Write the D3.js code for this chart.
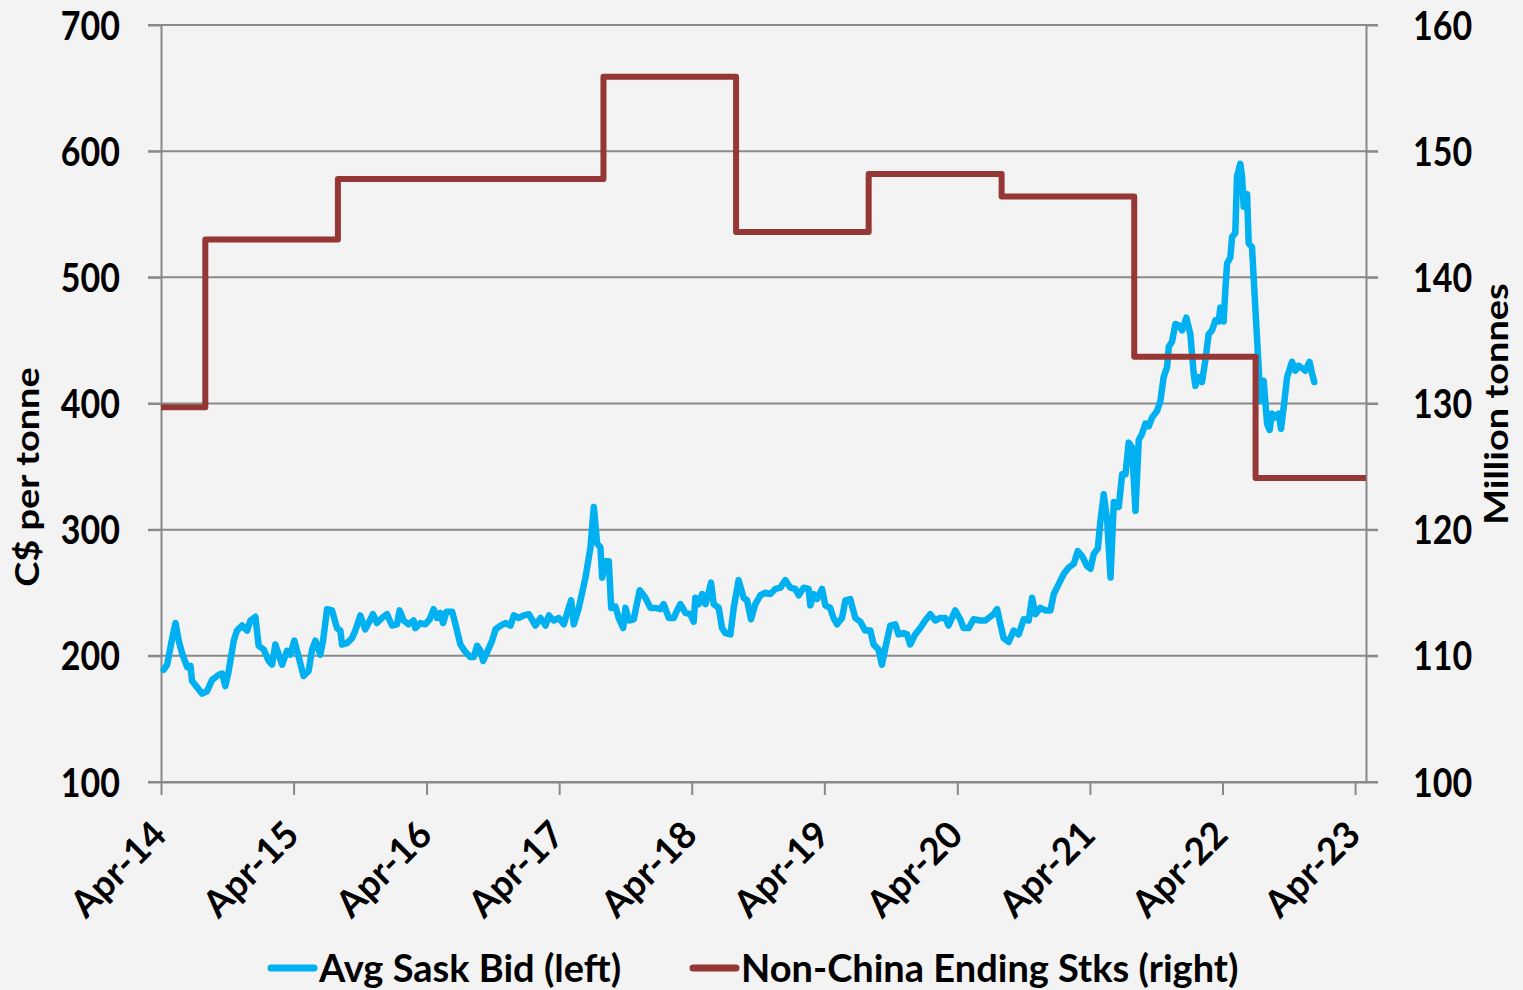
<!DOCTYPE html>
<html>
<head>
<meta charset="utf-8">
<script src="https://cdn.jsdelivr.net/npm/d3@7"></script>
<style>
  html, body { margin: 0; padding: 0; background: #f3f3f3; }
  svg { display: block; }
  text { font-family: Lato, "Open Sans", sans-serif; font-weight: 700; fill: #000; }
</style>
</head>
<body>
<svg id="chart" width="1523" height="990"></svg>
<script>
// Average Saskatchewan bid, C$/tonne: [decimal year, price]
const avgSaskBid = [
  [2014.267,189],[2014.293,193],[2014.331,214],[2014.356,226],[2014.380,212],[2014.406,202],[2014.444,191],[2014.469,192],[2014.481,180],[2014.519,175],
  [2014.557,170],[2014.594,172],[2014.632,181],[2014.682,185],[2014.707,186],[2014.732,176],[2014.757,188],[2014.795,212],[2014.820,220],[2014.858,224],
  [2014.896,220],[2014.921,228],[2014.958,231],[2014.983,208],[2015.021,205],[2015.059,196],[2015.084,193],[2015.109,209],[2015.134,201],[2015.160,193],
  [2015.197,204],[2015.222,201],[2015.252,212],[2015.285,199],[2015.322,184],[2015.360,188],[2015.386,205],[2015.411,212],[2015.448,201],[2015.469,212],
  [2015.499,237],[2015.536,236],[2015.574,222],[2015.599,220],[2015.612,209],[2015.649,210],[2015.687,214],[2015.712,220],[2015.750,232],[2015.787,221],
  [2015.812,226],[2015.845,233],[2015.875,226],[2015.913,230],[2015.951,233],[2015.989,224],[2016.026,225],[2016.046,236],[2016.076,228],[2016.114,225],
  [2016.151,228],[2016.164,222],[2016.202,226],[2016.239,225],[2016.272,229],[2016.302,237],[2016.328,230],[2016.352,234],[2016.373,226],[2016.398,235],
  [2016.441,235],[2016.466,225],[2016.503,209],[2016.541,203],[2016.579,199],[2016.603,199],[2016.629,208],[2016.654,204],[2016.674,196],[2016.704,203],
  [2016.742,212],[2016.767,221],[2016.805,224],[2016.842,226],[2016.880,224],[2016.905,232],[2016.943,230],[2016.980,232],[2017.018,233],[2017.068,224],
  [2017.106,230],[2017.144,224],[2017.169,232],[2017.206,228],[2017.244,230],[2017.282,225],[2017.307,234],[2017.337,244],[2017.357,225],[2017.395,238],
  [2017.445,262],[2017.483,286],[2017.508,318],[2017.533,289],[2017.558,286],[2017.571,262],[2017.596,275],[2017.621,275],[2017.639,238],[2017.671,239],
  [2017.696,230],[2017.729,222],[2017.747,238],[2017.772,228],[2017.809,229],[2017.854,252],[2017.897,246],[2017.935,238],[2017.973,238],[2018.010,237],
  [2018.035,241],[2018.073,230],[2018.111,230],[2018.136,236],[2018.161,241],[2018.199,234],[2018.236,233],[2018.261,227],[2018.274,246],[2018.299,241],
  [2018.325,249],[2018.350,241],[2018.374,250],[2018.392,258],[2018.412,241],[2018.450,238],[2018.475,222],[2018.500,218],[2018.538,217],[2018.563,238],
  [2018.600,260],[2018.638,246],[2018.664,244],[2018.694,229],[2018.726,241],[2018.764,248],[2018.802,250],[2018.839,249],[2018.877,253],[2018.915,254],
  [2018.952,260],[2018.990,254],[2019.028,253],[2019.053,248],[2019.090,254],[2019.128,253],[2019.141,240],[2019.166,249],[2019.191,245],[2019.229,253],
  [2019.254,240],[2019.291,238],[2019.316,230],[2019.342,225],[2019.380,230],[2019.405,244],[2019.442,245],[2019.480,230],[2019.518,227],[2019.555,220],
  [2019.593,220],[2019.618,209],[2019.655,205],[2019.681,193],[2019.706,206],[2019.744,224],[2019.781,225],[2019.806,217],[2019.844,218],[2019.870,217],
  [2019.894,209],[2019.932,217],[2019.970,222],[2020.007,228],[2020.045,233],[2020.083,228],[2020.120,230],[2020.158,230],[2020.183,224],[2020.233,236],
  [2020.271,229],[2020.296,222],[2020.334,222],[2020.371,229],[2020.422,228],[2020.460,228],[2020.484,230],[2020.522,233],[2020.548,237],[2020.573,225],
  [2020.597,214],[2020.635,211],[2020.673,220],[2020.710,217],[2020.748,229],[2020.786,228],[2020.811,246],[2020.836,233],[2020.874,238],[2020.912,236],
  [2020.949,236],[2020.974,249],[2021.012,257],[2021.050,265],[2021.087,270],[2021.125,273],[2021.155,283],[2021.188,279],[2021.226,271],[2021.251,269],
  [2021.276,281],[2021.306,285],[2021.326,307],[2021.351,328],[2021.377,307],[2021.402,262],[2021.427,322],[2021.464,318],[2021.490,344],[2021.515,344],
  [2021.539,369],[2021.565,365],[2021.590,315],[2021.615,371],[2021.640,376],[2021.665,384],[2021.690,382],[2021.716,389],[2021.753,394],[2021.778,402],
  [2021.803,421],[2021.829,429],[2021.841,445],[2021.866,449],[2021.891,463],[2021.916,462],[2021.942,458],[2021.974,468],[2022.004,455],[2022.029,424],
  [2022.042,414],[2022.067,421],[2022.092,417],[2022.117,434],[2022.142,455],[2022.168,458],[2022.193,466],[2022.218,465],[2022.230,476],[2022.255,465],
  [2022.268,490],[2022.281,511],[2022.306,516],[2022.319,532],[2022.343,535],[2022.356,580],[2022.381,590],[2022.394,580],[2022.406,556],[2022.432,566],
  [2022.444,527],[2022.469,524],[2022.494,476],[2022.519,429],[2022.532,402],[2022.557,418],[2022.583,384],[2022.602,379],[2022.620,392],[2022.645,389],
  [2022.670,392],[2022.688,380],[2022.708,397],[2022.734,421],[2022.771,433],[2022.796,426],[2022.820,430],[2022.846,428],[2022.871,426],[2022.903,433],
  [2022.921,424],[2022.939,417]
];

// Non-China ending stocks, million tonnes, by the date each estimate takes effect
const stockDates  = ["2014-04-01","2014-08-01","2015-08-01","2016-08-01","2017-08-01","2018-08-01","2019-08-01","2020-08-01","2021-08-01","2022-07-01","2023-05-01"];
const stockValues = [129.7, 143.0, 147.8, 147.8, 155.9, 143.6, 148.2, 146.4, 133.7, 124.1, 124.1];

const leftTicks  = [100, 200, 300, 400, 500, 600, 700];
const rightTicks = [100, 110, 120, 130, 140, 150, 160];
const dateTicks  = ["2014-04-01","2015-04-01","2016-04-01","2017-04-01","2018-04-01","2019-04-01","2020-04-01","2021-04-01","2022-04-01","2023-04-01"];

const legendItems = [
  { label: "Avg Sask Bid (left)", color: "#00b0f0" },
  { label: "Non-China Ending Stks (right)", color: "#953735" }
];

// ---- layout ----
const plot = { left: 161, right: 1366, top: 25, bottom: 782 };
const gridColor = "#898989";
const textStretch = "scale(1,1.15)";

const svg = d3.select("#chart");

function decimalYearToDate(t) {
  const y = Math.floor(t);
  const a = Date.UTC(y, 0, 1), b = Date.UTC(y + 1, 0, 1);
  return new Date(a + (t - y) * (b - a));
}
const parseDay = d3.utcParse("%Y-%m-%d");

const x  = d3.scaleUtc().domain([parseDay("2014-04-01"), parseDay("2023-05-01")]).range([plot.left, plot.right]);
const yL = d3.scaleLinear().domain([100, 700]).range([plot.bottom, plot.top]);
const yR = d3.scaleLinear().domain([100, 160]).range([plot.bottom, plot.top]);

// horizontal gridlines (run across both tick stubs)
svg.append("g").selectAll("line").data(leftTicks).join("line")
  .attr("x1", plot.left - 13).attr("x2", plot.right + 12)
  .attr("y1", d => yL(d)).attr("y2", d => yL(d))
  .attr("stroke", gridColor).attr("stroke-width", 2);

// left axis
const gL = svg.append("g").attr("transform", `translate(${plot.left},0)`)
  .call(d3.axisLeft(yL).tickValues(leftTicks).tickSize(13).tickSizeOuter(0).tickPadding(28));
// right axis
const gR = svg.append("g").attr("transform", `translate(${plot.right},0)`)
  .call(d3.axisRight(yR).tickValues(rightTicks).tickSize(12).tickSizeOuter(0).tickPadding(35));
// bottom axis
const gB = svg.append("g").attr("transform", `translate(0,${plot.bottom})`)
  .call(d3.axisBottom(x).tickValues(dateTicks.map(parseDay)).tickSize(13).tickSizeOuter(0)
    .tickFormat(d3.utcFormat("%b-%y")));

[gL, gR, gB].forEach(g => {
  g.select(".domain").attr("stroke", gridColor).attr("stroke-width", 2);
  g.selectAll(".tick line").attr("stroke", gridColor).attr("stroke-width", 2);
  g.selectAll("text").attr("font-size", 34).attr("font-family", "Lato").attr("font-weight", 700).attr("fill", "#000");
});
gL.selectAll(".tick text").attr("dy", "0.36em").attr("transform", textStretch);
gR.selectAll(".tick text").attr("dy", "0.36em").attr("transform", textStretch);
gB.selectAll(".tick text")
  .attr("x", 0).attr("y", 0).attr("dy", 0)
  .attr("font-size", 37)
  .attr("text-anchor", "end")
  .attr("transform", "translate(7,55) rotate(-45)");

// axis titles
svg.append("text")
  .attr("transform", "translate(39,477) rotate(-90) scale(1.15,1)")
  .attr("text-anchor", "middle").attr("font-size", 33)
  .text("C$ per tonne");
svg.append("text")
  .attr("transform", "translate(1508,404) rotate(-90) scale(1.15,1)")
  .attr("text-anchor", "middle").attr("font-size", 33)
  .text("Million tonnes");

// series
const bidLine = d3.line()
  .x(d => x(decimalYearToDate(d[0])))
  .y(d => yL(d[1]));
svg.append("path").datum(avgSaskBid)
  .attr("d", bidLine)
  .attr("fill", "none").attr("stroke", "#00b0f0").attr("stroke-width", 6.5)
  .attr("stroke-linejoin", "round").attr("stroke-linecap", "round");

const stockData = stockDates.map((d, i) => [parseDay(d), stockValues[i]]);
const stockLine = d3.line().curve(d3.curveStepAfter)
  .x(d => x(d[0]))
  .y(d => yR(d[1]));
svg.append("path").datum(stockData)
  .attr("d", stockLine)
  .attr("fill", "none").attr("stroke", "#953735").attr("stroke-width", 6)
  .attr("stroke-linejoin", "round");

// legend
const legendX = [268, 690];
const legend = svg.append("g").selectAll("g").data(legendItems).join("g")
  .attr("transform", (d, i) => `translate(${legendX[i]},968)`);
legend.append("line")
  .attr("x1", 3).attr("x2", 46).attr("y1", 0).attr("y2", 0)
  .attr("stroke", d => d.color).attr("stroke-width", 7).attr("stroke-linecap", "round");
legend.append("text")
  .attr("x", 51).attr("y", 0).attr("dy", "0.37em")
  .attr("font-size", 38)
  .text(d => d.label);
</script>
</body>
</html>
